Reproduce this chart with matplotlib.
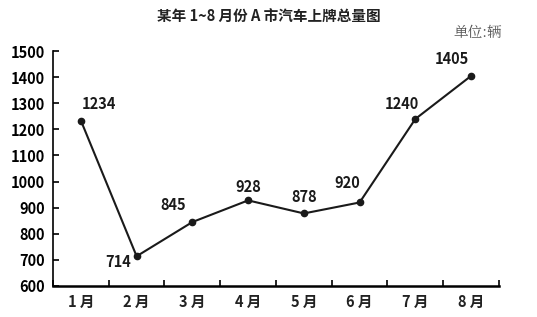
import matplotlib
matplotlib.use("Agg")
import matplotlib.pyplot as plt

plt.rcParams['font.family'] = ['Liberation Sans Narrow', 'Noto Sans CJK SC', 'DejaVu Sans']

months = ["1 月", "2 月", "3 月", "4 月", "5 月", "6 月", "7 月", "8 月"]
values = [1234, 714, 845, 928, 878, 920, 1240, 1405]
yticks = [600, 700, 800, 900, 1000, 1100, 1200, 1300, 1400, 1500]
label_offsets = [(13, 12), (-13, -4), (-14, 12), (0, 10), (0, 12), (-9, 14), (-10, 11), (-14, 12)]

fig = plt.figure(figsize=(5.37, 3.17), dpi=100)
ax = fig.add_axes([0.0987, 0.0978, 0.8305, 0.741])

x = [i + 0.5 for i in range(len(values))]
ax.plot(x, values, color='#1a1a1a', lw=1.5, marker='o', ms=4.5)
for xi, v, off in zip(x, values, label_offsets):
    ax.annotate(str(v), (xi, v), xytext=off, textcoords='offset points',
                ha='center', va='center', fontsize=10.5, fontweight='bold', color='#1a1a1a')

ax.set_xlim(0, len(values))
ax.set_ylim(600, 1500)
ax.set_yticks(yticks)
ax.set_yticklabels([str(t) for t in yticks], fontsize=10.5, fontweight='bold')
ax.set_xticks(range(len(values) + 1))
ax.set_xticklabels([])
ax.set_xticks(x, minor=True)
ax.set_xticklabels(months, minor=True, fontsize=10.5, fontweight='bold', color='#222')
ax.tick_params(axis='x', which='minor', length=0, pad=6)
ax.tick_params(axis='x', which='major', direction='in', length=4, width=1.2)
ax.tick_params(axis='y', direction='in', length=4, width=1.2, pad=6)
for s in ['top', 'right']:
    ax.spines[s].set_visible(False)
ax.spines['left'].set_linewidth(1.2)
ax.spines['bottom'].set_linewidth(1.8)

fig.text(0.5, 0.945, "某年 1~8 月份 A 市汽车上牌总量图", ha='center', va='center',
         fontsize=10.5, fontweight='bold', color='#222')
fig.text(0.935, 0.895, "单位:辆", ha='right', va='center', fontsize=10.5, color='#555',
         family=['Noto Serif CJK SC', 'Noto Sans CJK SC'])

fig.savefig("out.png", dpi=100)
